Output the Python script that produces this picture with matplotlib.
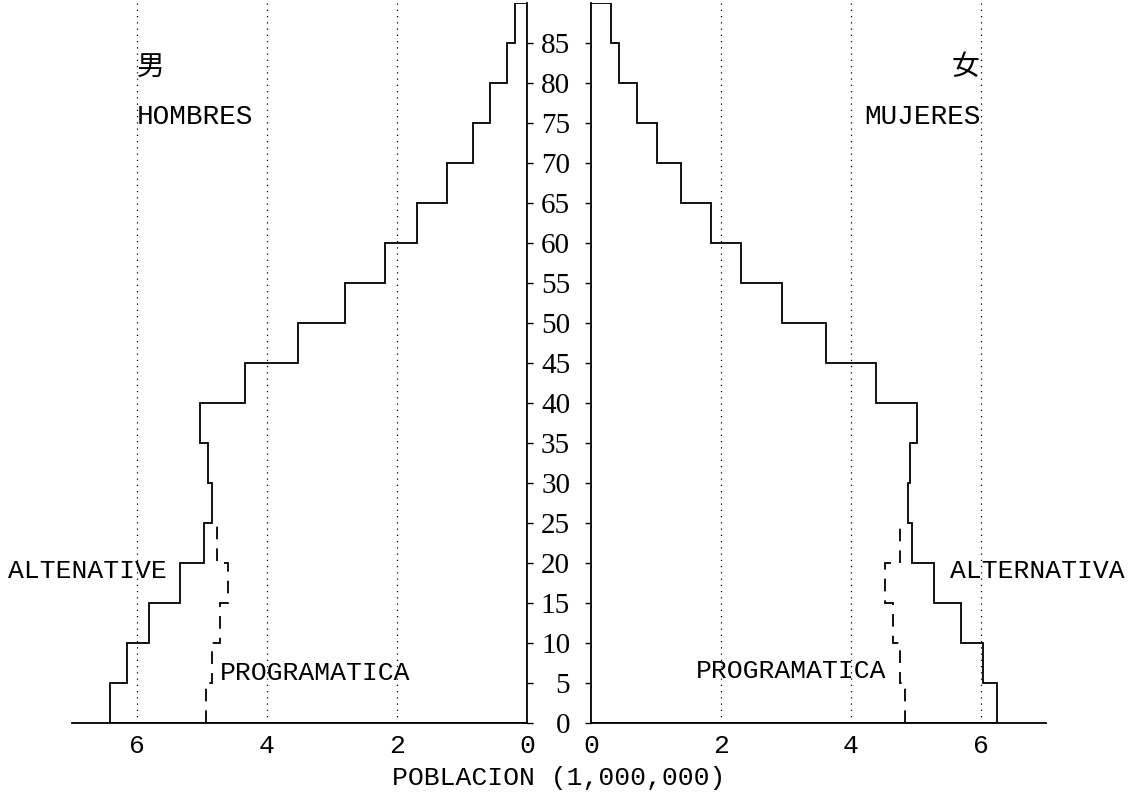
import numpy as np
import matplotlib.pyplot as plt

plt.rcParams['font.family'] = ['Liberation Mono', 'Noto Sans CJK JP', 'DejaVu Sans']

# grupos de edad (bordes) y poblacion en millones
edades = [0, 5, 10, 15, 20, 25, 30, 35, 40, 45, 50, 55, 60, 65, 70, 75, 80, 85, 90]
hombres_alt = [6.42, 6.16, 5.82, 5.34, 4.97, 4.85, 4.91, 5.03, 4.34, 3.52,
               2.80, 2.18, 1.69, 1.23, 0.83, 0.57, 0.31, 0.19]
mujeres_alt = [6.25, 6.03, 5.69, 5.27, 4.94, 4.87, 4.90, 5.02, 4.38, 3.62,
               2.94, 2.31, 1.85, 1.39, 1.02, 0.71, 0.43, 0.30]
edades_prog = [0, 5, 10, 15, 20, 25]
hombres_prog = [4.94, 4.85, 4.72, 4.60, 4.77]
mujeres_prog = [4.83, 4.76, 4.64, 4.53, 4.76]

xticks = [0, 2, 4, 6]
yticks = list(range(0, 90, 5))

W, H = 1141, 801
fig = plt.figure(figsize=(W / 100, H / 100), dpi=100)
axL = fig.add_axes([72 / W, 78 / H, 455 / W, 720 / H])
axR = fig.add_axes([591 / W, 78 / H, 455 / W, 720 / H])

for ax, alt, prog in [(axL, hombres_alt, hombres_prog), (axR, mujeres_alt, mujeres_prog)]:
    ax.stairs(alt, edades, orientation='horizontal', baseline=0, color='k', lw=1.3)
    ax.stairs(prog, edades_prog, orientation='horizontal', baseline=None,
              color='k', lw=1.3, ls=(0, (7, 5)))
    for x in xticks[1:]:
        ax.axvline(x, color='k', lw=0.9, ls=(0, (1, 4)))
    ax.set_xlim(0, 7)
    ax.set_ylim(0, 90)
    ax.set_xticks(xticks)
    ax.set_yticks(yticks)
    ax.tick_params(axis='x', length=0, pad=8, labelsize=19)
    ax.tick_params(axis='y', direction='out', length=4, width=1)
    ax.spines['top'].set_visible(False)
    for s in ax.spines.values():
        s.set_linewidth(1.3)

# panel de hombres (eje invertido)
axL.set_xlim(7, 0)
axL.spines['left'].set_visible(False)
axL.yaxis.tick_right()
axL.tick_params(axis='y', labelright=False)

# panel de mujeres
axR.spines['right'].set_visible(False)
axR.tick_params(axis='y', pad=11)
for lab in axR.get_yticklabels():
    lab.set_family('Liberation Serif')
    lab.set_fontsize(21)

axL.text(6.0, 82, '男', ha='left', va='center', fontsize=20,
         family=['Noto Sans CJK JP'])
axL.text(6.0, 75.8, 'HOMBRES', ha='left', va='center', fontsize=20)
axR.text(5.97, 82, '女', ha='right', va='center', fontsize=20,
         family=['Noto Sans CJK JP'])
axR.text(6.0, 75.8, 'MUJERES', ha='right', va='center', fontsize=20)

axL.text(5.55, 19, 'ALTENATIVE', ha='right', va='center', fontsize=19, clip_on=False)
axL.text(4.72, 6.3, 'PROGRAMATICA', ha='left', va='center', fontsize=19)
axR.text(5.53, 19, 'ALTERNATIVA', ha='left', va='center', fontsize=19, clip_on=False)
axR.text(4.55, 6.5, 'PROGRAMATICA', ha='right', va='center', fontsize=19)

fig.text(559 / W, 1 - 778 / H, 'POBLACION (1,000,000)', ha='center', va='center',
         fontsize=19)

fig.savefig('out.png', dpi=100)
